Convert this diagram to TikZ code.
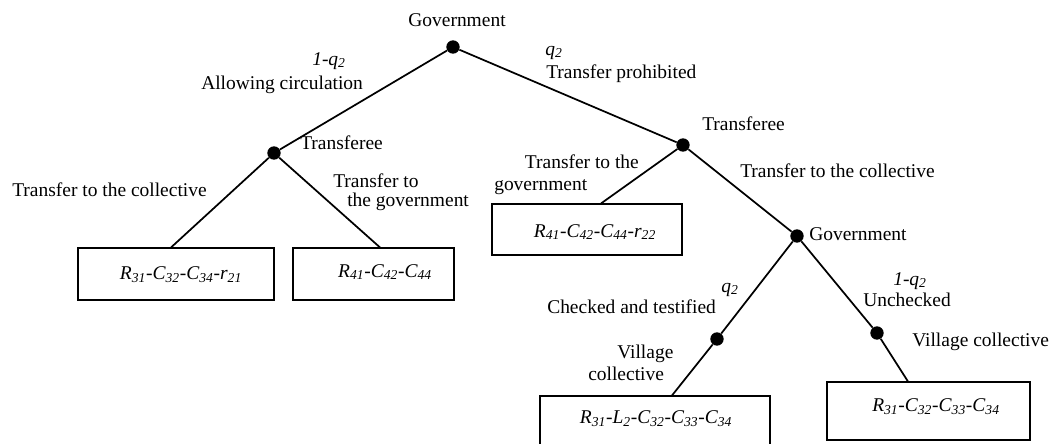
\documentclass[tikz,border=0pt]{standalone}
\usepackage{fontspec}
\setmainfont{Liberation Serif}
\begin{document}
\begin{tikzpicture}[x=0.75pt,y=-0.75pt,
  font=\fontsize{14.6}{16}\selectfont,
  dot/.style={circle,fill=black,inner sep=0pt,minimum size=10pt},
  edge/.style={line width=1.3pt},
  lbl/.style={inner sep=0pt,anchor=mid west},
  mlbl/.style={inner sep=0pt,anchor=north west,align=left},
  payoff/.style={draw,line width=0.8pt,inner sep=0pt},
  pay/.style={inner sep=0pt,font=\fontsize{14.6}{16}\selectfont\itshape}]
\useasboundingbox (0,0) rectangle (1052,443);

% decision nodes
\node[dot] (g1) at (453,47) {};
\node[dot] (t1) at (274,153) {};
\node[dot] (t2) at (683,145) {};
\node[dot] (g2) at (797,236) {};
\node[dot] (v1) at (717,339) {};
\node[dot] (v2) at (877,333) {};

% payoff boxes
\node[payoff,minimum width=147pt,minimum height=39pt] (b1) at (176,274) {};
\node[payoff,minimum width=120.75pt,minimum height=39pt] (b2) at (373.5,274) {};
\node[payoff,minimum width=142.5pt,minimum height=38.25pt] (b3) at (587,229.5) {};
\node[payoff,minimum width=172.5pt,minimum height=42pt] (b4) at (655,424) {};
\node[payoff,minimum width=152.25pt,minimum height=43.5pt] (b5) at (928.5,411) {};

\node[pay] (b1t) at (181,275) {R\textsubscript{31}-C\textsubscript{32}-C\textsubscript{34}-r\textsubscript{21}};
\node[pay] (b2t) at (385,272) {R\textsubscript{41}-C\textsubscript{42}-C\textsubscript{44}};
\node[pay] (b3t) at (595,232) {R\textsubscript{41}-C\textsubscript{42}-C\textsubscript{44}-r\textsubscript{22}};
\node[pay] (b4t) at (656,419) {R\textsubscript{31}-L\textsubscript{2}-C\textsubscript{32}-C\textsubscript{33}-C\textsubscript{34}};
\node[pay] (b5t) at (936,407) {R\textsubscript{31}-C\textsubscript{32}-C\textsubscript{33}-C\textsubscript{34}};

% connectors
\draw[edge] (g1) -- (t1);
\draw[edge] (g1) -- (t2);
\draw[edge] (t1) -- ([xshift=-3.75pt]b1.north);
\draw[edge] (t1) -- ([xshift=4.9pt]b2.north);
\draw[edge] (t2) -- ([xshift=10.5pt]b3.north);
\draw[edge] (t2) -- (g2);
\draw[edge] (g2) -- (v1);
\draw[edge] (v1) -- ([xshift=12.75pt]b4.north);
\draw[edge] (g2) -- (v2);
\draw[edge] (v2) -- ([xshift=-15.4pt]b5.north);

% labels
\node[inner sep=0pt] (lg1) at (457,20) {Government};
\node[lbl] (lp1) at (312,62) {\textit{1-q\textsubscript{2}}};
\node[lbl] (la1) at (201,86) {Allowing circulation};
\node[lbl] (lp2) at (545,52) {\textit{q\textsubscript{2}}};
\node[lbl] (la2) at (546,75) {Transfer prohibited};
\node[lbl] (lt1) at (300,146) {Transferee};
\node[lbl] (lt2) at (702,127) {Transferee};
\node[lbl] (la3) at (12,193) {Transfer to the collective};
\node[mlbl] (la4) at (333,174) {Transfer to\\[-2pt]\hspace*{10.5pt}the government};
\node[mlbl] (la5) at (494,155) {\hspace*{23pt}Transfer to the\\government};
\node[lbl] (la6) at (740,174) {Transfer to the collective};
\node[lbl] (lg2) at (809,237) {Government};
\node[lbl] (lp3) at (721,289) {\textit{q\textsubscript{2}}};
\node[lbl] (la7) at (547,310) {Checked and testified};
\node[mlbl] (lv1) at (588,345) {\hspace*{21.75pt}Village\\collective};
\node[lbl] (lp4) at (893,282) {\textit{1-q\textsubscript{2}}};
\node[lbl] (la8) at (863,303) {Unchecked};
\node[lbl] (lv2) at (912,343) {Village collective};
\end{tikzpicture}
\end{document}
